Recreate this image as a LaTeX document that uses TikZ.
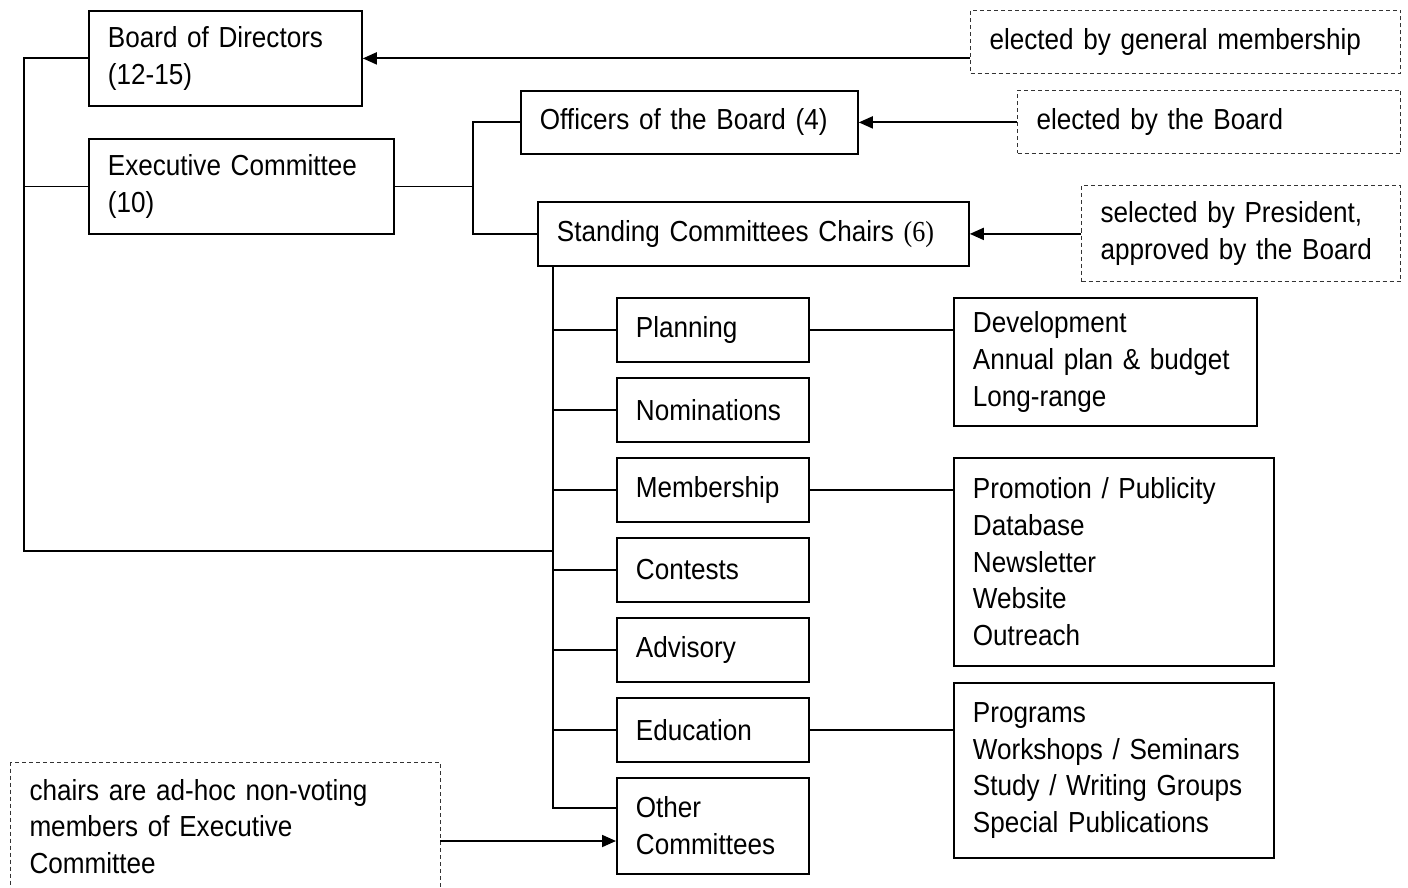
\documentclass[tikz,border=0pt]{standalone}
\usepackage{fontspec}
\setmainfont{Liberation Sans}[FakeStretch=0.9]
\newfontfamily\serifx{Liberation Serif}[FakeStretch=0.9]
\usetikzlibrary{arrows.meta}
\newcommand\myboxfont{\fontsize{29}{36.7}\selectfont\spaceskip=7pt\relax}
\begin{document}
\begin{tikzpicture}[x=1pt,y=-1pt,
  box/.style={draw, line width=1.8pt, inner xsep=19pt, inner ysep=0pt, align=left,
    anchor=north west, font=\myboxfont},
  dbox/.style={box, line width=1pt, dash pattern=on 4pt off 3pt, draw=black!80},
  conn/.style={line width=1.8pt},
  arr/.style={conn, -{Triangle[length=14pt,width=12pt]}}]
\useasboundingbox[fill=white] (0,0) rectangle (1408,888);
% main boxes
\node[box, minimum width=273pt, text width=235pt, minimum height=95pt] (board) at (88,10) {Board of Directors\\(12-15)};
\node[box, minimum width=305pt, text width=267pt, minimum height=95pt] (exec) at (88,138) {Executive Committee\\(10)};
\node[box, minimum width=337pt, text width=299pt, minimum height=63pt] (off) at (520,90) {Officers of the Board (4)};
\node[box, minimum width=431pt, text width=393pt, minimum height=64pt] (stand) at (537,201) {Standing Committees Chairs {\serifx(6)}};
% dashed notes
\node[dbox, minimum width=430pt, text width=392pt, minimum height=63pt] (gen) at (970,10) {elected by general membership};
\node[dbox, minimum width=383pt, text width=345pt, minimum height=63pt] (ebb) at (1017,90) {elected by the Board};
\node[dbox, minimum width=319pt, text width=281pt, minimum height=96pt] (pres) at (1081,185) {selected by President,\\approved by the Board};
\node[dbox, minimum width=430pt, text width=392pt, minimum height=128pt] (adhoc) at (10,762) {chairs are ad-hoc non-voting\\members of Executive\\Committee};
% committees
\node[box, minimum width=192pt, text width=154pt, minimum height=64pt] (plan) at (616,297) {Planning};
\node[box, minimum width=192pt, text width=154pt, minimum height=64pt] (nom) at (616,377) {Nominations};
\node[box, minimum width=192pt, text width=154pt, minimum height=64pt] (mem) at (616,457) {Membership};
\node[box, minimum width=192pt, text width=154pt, minimum height=64pt] (con) at (616,537) {Contests};
\node[box, minimum width=192pt, text width=154pt, minimum height=64pt] (adv) at (616,617) {Advisory};
\node[box, minimum width=192pt, text width=154pt, minimum height=64pt] (edu) at (616,697) {Education};
\node[box, minimum width=192pt, text width=154pt, minimum height=96pt] (other) at (616,777) {Other\\Committees};
% sub boxes
\node[box, minimum width=303pt, text width=265pt, minimum height=128pt] (plansub) at (953,297) {Development\\Annual plan \& budget\\Long-range};
\node[box, minimum width=320pt, text width=282pt, minimum height=208pt] (memsub) at (953,457) {Promotion / Publicity\\Database\\Newsletter\\Website\\Outreach};
\node[box, minimum width=320pt, text width=282pt, minimum height=175pt] (edusub) at (953,682) {Programs\\Workshops / Seminars\\Study / Writing Groups\\Special Publications};
% coordinates
\coordinate (lb) at (24,551);
\coordinate (jb) at (553,551);
\coordinate (ej) at (473,185);
\coordinate (ct) at (553,265);
\coordinate (ob) at (553,808);
\coordinate (aa) at (440,841);
% left bus
\draw[conn] (board.west) -| (lb) -- (jb);
\draw[conn] (exec.west) -- (exec.west -| lb);
% exec to officers / standing
\draw[conn] (exec.east) -- (exec.east -| ej);
\draw[conn] (off.west) -| (ej) |- (stand.west);
% committee bus
\draw[conn] (ct) -- (ob) -- (ob -| other.west);
\foreach \n in {plan,nom,mem,con,adv,edu}
  \draw[conn] (\n.west) -- (\n.west -| ct);
% sub connectors
\draw[conn] (plan.east) -- (plan.east -| plansub.west);
\draw[conn] (mem.east) -- (mem.east -| memsub.west);
\draw[conn] (edu.east) -- (edu.east -| edusub.west);
% arrows
\draw[arr] (board.east -| gen.west) -- (board.east);
\draw[arr] (off.east -| ebb.west) -- (off.east);
\draw[arr] (stand.east -| pres.west) -- (stand.east);
\draw[arr] (aa) -- (aa -| other.west);
\end{tikzpicture}
\end{document}
